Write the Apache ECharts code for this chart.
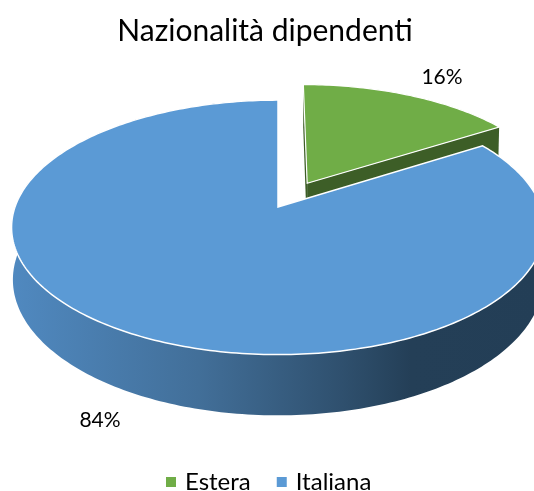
<!DOCTYPE html>
<html>
<head>
    <meta charset="UTF-8">
    <title>Nazionalità dipendenti</title>
    <script src="https://cdn.jsdelivr.net/npm/echarts@6/dist/echarts.min.js"></script>
    <style>
        html, body { margin: 0; padding: 0; background: #fff; }
    </style>
</head>
<body>
    <div id="chart" style="width:534px; height:491px;"></div>

    <script>
        var categories = ['Estera', 'Italiana'];
        var values = [16, 84];
        var labels = ['16%', '84%'];

        var total = values[0] + values[1];
        var DEG = Math.PI / 180;

        // rough perspective of the excel 3d pie: apex, radii, tilt, wall height
        var cx = 278, cy = 207, rx = 263, ry = 124, k = 0.16, wall = 51, shrink = 0.995;
        var explode = 0.225;

        function project(X, Y, down) {
            var w = 1 - k * Y;
            var s = down ? shrink : 1;
            return [cx + rx * X / w * s, cy + ry * Y / w + (down ? wall / w : 0)];
        }

        // angle is clockwise from twelve o'clock, r is the slice radius
        function rim(a, r, ox, oy, down) {
            return project(r * Math.sin(a * DEG) + ox, -r * Math.cos(a * DEG) + oy, down);
        }

        function arc(from, to, r, ox, oy, down) {
            var pts = [];
            for (var a = from; a <= to; a += 1) pts.push(rim(a, r, ox, oy, down));
            pts.push(rim(to, r, ox, oy, down));
            return pts;
        }

        function poly(points, fill, extra) {
            var el = { type: 'polygon', shape: { points: points }, style: { fill: fill } };
            if (extra) {
                el.style.stroke = extra.stroke;
                el.style.lineWidth = extra.lineWidth;
            }
            return el;
        }

        function renderEstera(params, api) {
            var end = api.value(0) / total * 360;
            var mid = end / 2;
            var r = 0.975;
            var ox = explode * Math.sin(mid * DEG) + 0.006, oy = -explode * Math.cos(mid * DEG);
            var apexTop = project(ox, oy, false), apexLow = project(ox, oy, true);
            var dark = '#3d5e27';
            var children = [
                poly([apexTop, rim(0, r, ox, oy, false), rim(0, r, ox, oy, true), apexLow], dark),
                poly([apexTop, rim(end, r, ox, oy, false), rim(end, r, ox, oy, true), apexLow], dark),
                poly([apexTop].concat(arc(0, end, r, ox, oy, false)), '#70ad47', { stroke: '#fff', lineWidth: 1.2 }),
                {
                    type: 'text', x: 442, y: 77,
                    style: { text: labels[0], fill: '#000', font: '21px Lato', align: 'center', verticalAlign: 'middle' }
                }
            ];
            return { type: 'group', children: children };
        }

        function renderItaliana(params, api) {
            var start = values[0] / total * 360;
            var top = arc(start, 360, 1, 0, 0, false);
            var low = arc(start, 360, 1, 0, 0, true).reverse();
            var side = new echarts.graphic.LinearGradient(0, 0, 1, 0, [
                { offset: 0, color: '#5089c0' },
                { offset: 0.35, color: '#426f99' },
                { offset: 0.62, color: '#2f506e' },
                { offset: 0.75, color: '#243f57' },
                { offset: 1, color: '#233e56' }
            ]);
            var children = [
                poly(top.concat(low), side),
                poly([project(0, 0, false)].concat(top), '#5b9ad5', { stroke: '#fff', lineWidth: 1.5 }),
                {
                    type: 'text', x: 100, y: 420,
                    style: { text: labels[1], fill: '#000', font: '21px Lato', align: 'center', verticalAlign: 'middle' }
                }
            ];
            return { type: 'group', children: children };
        }

        var chart = echarts.init(document.getElementById('chart'), null, { renderer: 'canvas' });

        chart.setOption({
            animation: false,
            title: {
                text: 'Nazionalità dipendenti',
                left: 260,
                top: 11,
                textAlign: 'center',
                textStyle: { fontFamily: 'Lato', fontSize: 30, fontWeight: 'normal', color: '#000' }
            },
            legend: {
                data: categories,
                left: 166,
                top: 470,
                itemWidth: 10,
                itemHeight: 10,
                itemGap: 26,
                icon: 'rect',
                padding: 0,
                textStyle: { fontFamily: 'Lato', fontSize: 24, color: '#000', padding: [0, 0, 0, 4] }
            },
            series: [
                { type: 'custom', name: categories[0], coordinateSystem: 'none', renderItem: renderEstera, data: [values[0]], itemStyle: { color: '#70ad47' } },
                { type: 'custom', name: categories[1], coordinateSystem: 'none', renderItem: renderItaliana, data: [values[1]], itemStyle: { color: '#5b9ad5' } }
            ]
        });
    </script>
</body>
</html>
